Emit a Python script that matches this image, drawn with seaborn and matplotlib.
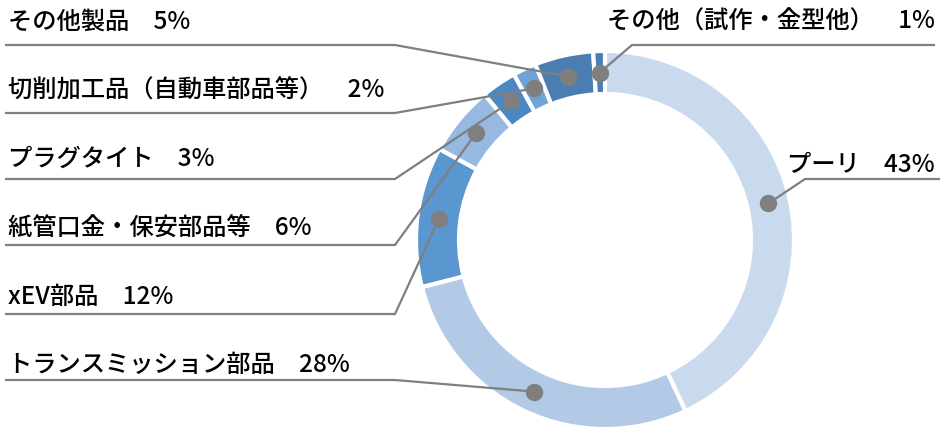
import numpy as np
import matplotlib.pyplot as plt
import seaborn as sns

# segment shares, clockwise from the top
labels = ['プーリ', 'トランスミッション部品', 'xEV部品', '紙管口金・保安部品等',
          'プラグタイト', '切削加工品（自動車部品等）', 'その他製品', 'その他（試作・金型他）']
shares = [43, 28, 12, 6, 3, 2, 5, 1]
colors = ['#C9D9EE', '#B3CAE6', '#5A97D0', '#97B9E1',
          '#4A87C3', '#6FA4DA', '#4A7EB1', '#4A7EB5']

sns.set_theme(style='white')
plt.rcParams['font.family'] = ['Noto Sans CJK JP', 'DejaVu Sans']

W, H = 941, 431
fig = plt.figure(figsize=(W / 100, H / 100), dpi=100)
ax = fig.add_axes([0, 0, 1, 1])

cx, cy = 605, H - 241
r_out, r_in = 189, 146
ax.pie(shares, colors=colors, startangle=90, counterclock=False,
       center=(cx, cy), radius=r_out, frame=True,
       wedgeprops=dict(width=r_out - r_in, edgecolor='white', linewidth=3))
ax.set_xlim(0, W)
ax.set_ylim(0, H)
ax.set_aspect('equal')
ax.axis('off')

# anchor dots in the middle of each ring segment
cum = np.cumsum([0] + shares[:-1])
mid = (cum + np.array(shares) / 2) / sum(shares) * 360
r_mid = (r_out + r_in) / 2
dx = cx + r_mid * np.sin(np.radians(mid))
dy = cy + r_mid * np.cos(np.radians(mid))

# label layout: (text x, text y, line y, elbow x, line end x, side)
layout = {
    'プーリ': (935, 165, 180, 805, 940, 'right'),
    'トランスミッション部品': (8, 365, 381, 395, 5, 'left'),
    'xEV部品': (8, 297, 315, 395, 5, 'left'),
    '紙管口金・保安部品等': (8, 228, 246, 395, 5, 'left'),
    'プラグタイト': (8, 159, 180, 395, 5, 'left'),
    '切削加工品（自動車部品等）': (8, 91, 114, 395, 5, 'left'),
    'その他製品': (8, 22, 46, 395, 5, 'left'),
    'その他（試作・金型他）': (935, 22, 46, 632, 935, 'right'),
}

line_c = '#7F7F7F'
for i, lab in enumerate(labels):
    tx, ty, ly, ex, endx, side = layout[lab]
    ax.plot([endx, ex, dx[i]], [H - ly, H - ly, dy[i]],
            color=line_c, lw=1.6, solid_capstyle='butt', zorder=3)
    ax.plot(dx[i], dy[i], 'o', ms=11.5, color=line_c, zorder=4)
    ax.text(tx, H - ty, f'{lab}\u3000{shares[i]}%', ha=side, va='center',
            fontsize=17.5, fontweight='medium', color='black')

fig.savefig('out.png', dpi=100)
